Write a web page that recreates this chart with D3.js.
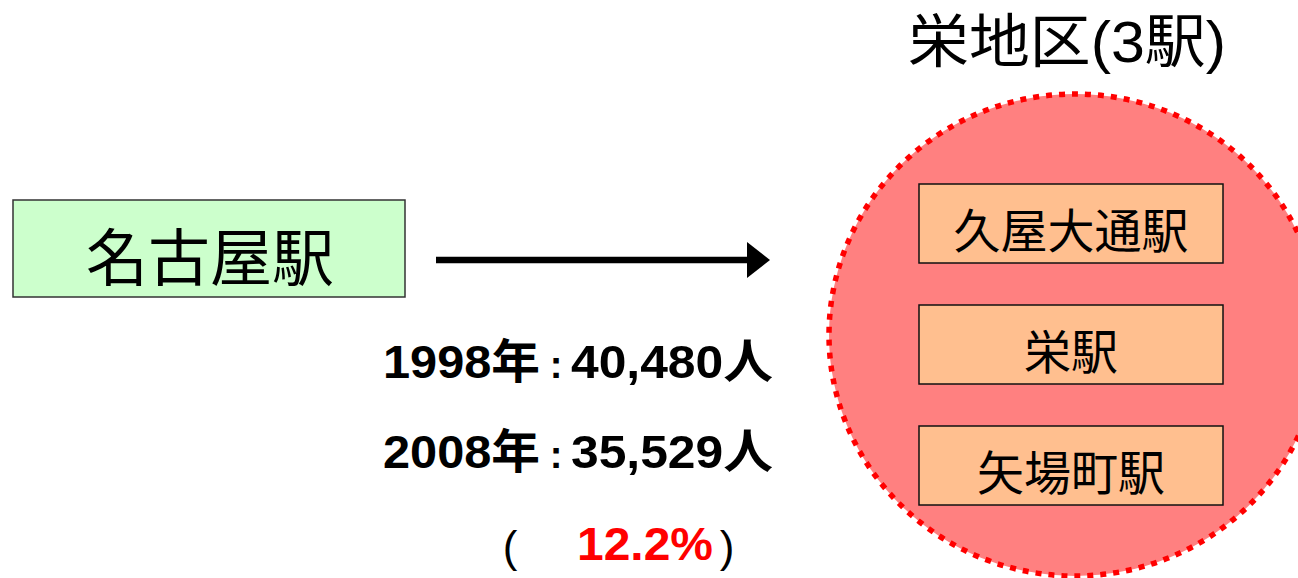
<!DOCTYPE html>
<html><head><meta charset="utf-8">
<script src="https://cdn.jsdelivr.net/npm/d3@7"></script>
<style>html,body{margin:0;padding:0;background:#fff;}svg{display:block;}</style>
</head><body>
<script>
const origin = "名古屋駅";
const areaTitle = "栄地区(3駅)";
const stations = ["久屋大通駅", "栄駅", "矢場町駅"];
const years = ["1998年", "2008年"];
const riders = [40480, 35529];
const changeLabel = "12.2%";

const W = 1298, H = 578;
const svg = d3.select("body").append("svg").attr("width", W).attr("height", H);
const CJK = "'Noto Sans CJK JP','Noto Sans CJK SC',sans-serif";
const LAT = "'Liberation Sans',Arial,'Noto Sans CJK JP',sans-serif";

// origin box
const ob = {x:13, y:200, w:392, h:97};
svg.append("rect").attr("x",ob.x).attr("y",ob.y).attr("width",ob.w).attr("height",ob.h)
  .attr("fill","#ccffcc").attr("stroke","#333").attr("stroke-width",1.5);
svg.append("text").attr("x",ob.x+ob.w/2+1).attr("y",ob.y+ob.h/2+5)
  .attr("text-anchor","middle").attr("dominant-baseline","central")
  .attr("font-family",CJK).attr("font-size",62).attr("fill","#000").text(origin);

// arrow
svg.append("defs").append("marker").attr("id","ah").attr("markerUnits","userSpaceOnUse")
  .attr("viewBox","0 0 24 36").attr("refX",0).attr("refY",18)
  .attr("markerWidth",24).attr("markerHeight",36).attr("orient","auto")
  .append("path").attr("d","M0,0L23,18L0,36Z").attr("fill","#000");
svg.append("line").attr("x1",436).attr("y1",260).attr("x2",747).attr("y2",260)
  .attr("stroke","#000").attr("stroke-width",6.5).attr("marker-end","url(#ah)");

// ridership rows
const rowY = d3.scalePoint().domain(years).range([378, 468]);
const fmt = d3.format(",");
const rows = svg.selectAll("g.row").data(years.map((y,i)=>({y, v:riders[i]}))).join("g").attr("class","row");
rows.append("text").attr("x",383).attr("y",d=>rowY(d.y)).attr("font-family",LAT).attr("font-weight","bold")
  .attr("font-size",47).attr("textLength",157).attr("lengthAdjust","spacingAndGlyphs").text(d=>d.y);
rows.append("text").attr("x",556).attr("y",d=>rowY(d.y)).attr("text-anchor","middle").attr("font-family",LAT)
  .attr("font-weight","bold").attr("font-size",38).text(":");
rows.append("text").attr("x",571).attr("y",d=>rowY(d.y)).attr("font-family",LAT).attr("font-weight","bold")
  .attr("font-size",47).attr("textLength",202).attr("lengthAdjust","spacingAndGlyphs").text(d=>fmt(d.v)+"人");

// change row
const cy3 = 560;
svg.append("text").attr("x",510).attr("y",cy3+2).attr("text-anchor","middle").attr("font-family",LAT).attr("font-size",44).text("(");
svg.append("text").attr("x",577).attr("y",cy3).attr("font-family",LAT).attr("font-weight","bold")
  .attr("font-size",47).attr("fill","#ff0000").attr("textLength",136).attr("lengthAdjust","spacingAndGlyphs").text(changeLabel);
svg.append("text").attr("x",727).attr("y",cy3+2).attr("text-anchor","middle").attr("font-family",LAT).attr("font-size",44).text(")");

// area circle
svg.append("ellipse").attr("cx",1075).attr("cy",335).attr("rx",246).attr("ry",241)
  .attr("fill","#ff8080").attr("stroke","#ff0000").attr("stroke-width",5.5).attr("stroke-dasharray","6,7");

svg.append("text").attr("x",1067).attr("y",41).attr("text-anchor","middle").attr("dominant-baseline","central")
  .attr("font-family",LAT).attr("font-size",58).attr("textLength",318).attr("lengthAdjust","spacingAndGlyphs").text(areaTitle);

// station boxes
const by = d3.scaleBand().domain(stations).range([184, 505]).paddingInner(42/121).paddingOuter(0);
const sb = svg.selectAll("g.st").data(stations).join("g").attr("class","st");
sb.append("rect").attr("x",919).attr("y",d=>by(d)).attr("width",304).attr("height",by.bandwidth())
  .attr("fill","#ffbf8f").attr("stroke","#111").attr("stroke-width",1.5);
sb.append("text").attr("x",1071).attr("y",d=>by(d)+by.bandwidth()/2+4)
  .attr("text-anchor","middle").attr("dominant-baseline","central")
  .attr("font-family",CJK).attr("font-size",47).attr("fill","#000").text(d=>d);
</script>
</body></html>
